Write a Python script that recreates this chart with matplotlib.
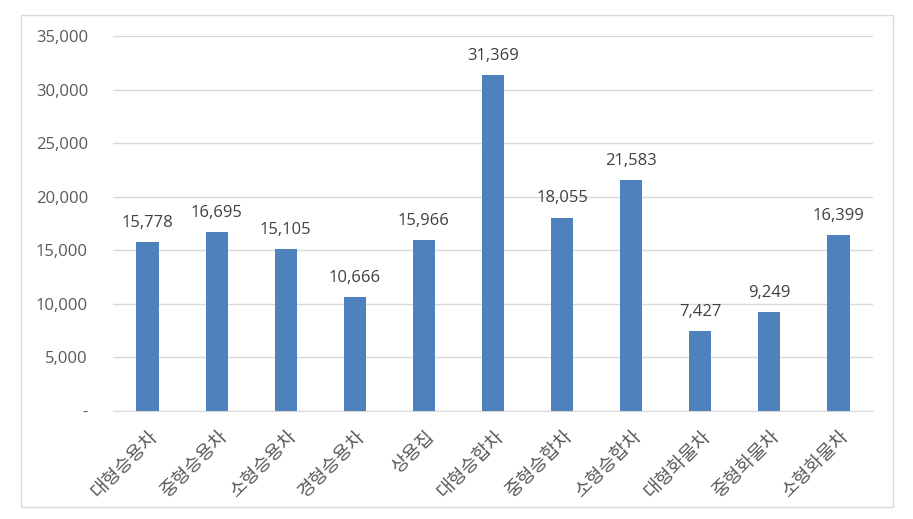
import matplotlib
matplotlib.use("Agg")
import matplotlib.pyplot as plt
from matplotlib.patches import Rectangle
from matplotlib.ticker import FuncFormatter

plt.rcParams['font.family'] = ['Open Sans', 'Noto Sans CJK KR', 'DejaVu Sans']

categories = ['대형승용차', '중형승용차', '소형승용차', '경형승용차', '상용집',
              '대형승합차', '중형승합차', '소형승합차', '대형화물차', '중형화물차', '소형화물차']
values = [15778, 16695, 15105, 10666, 15966, 31369, 18055, 21583, 7427, 9249, 16399]
y_ticks = [0, 5000, 10000, 15000, 20000, 25000, 30000, 35000]

text_color = '#595959'
grid_color = '#D9D9D9'
bar_color = '#4F81BD'


def fmt(v, _pos=None):
    return '-' if v == 0 else f'{int(v):,}'


def main():
    fig = plt.figure(figsize=(9.13, 5.19), dpi=100)
    fig.patches.append(Rectangle((21 / 913, 1 - 507 / 519), 872 / 913, 492 / 519,
                                 transform=fig.transFigure, fill=False,
                                 edgecolor=grid_color, linewidth=1))
    ax = fig.add_axes([113 / 913, 1 - 411 / 519, 760 / 913, 375 / 519])

    x_pos = list(range(len(categories)))
    ax.bar(x_pos, values, width=0.32, color=bar_color, zorder=3)
    for x, v in zip(x_pos, values):
        ax.annotate(fmt(v), (x, v), xytext=(0, 8), textcoords='offset points',
                    ha='center', va='bottom', fontsize=12, color='#404040')

    ax.set_xlim(-0.5, len(categories) - 0.5)
    ax.set_ylim(0, 35000)
    ax.set_yticks(y_ticks)
    ax.yaxis.set_major_formatter(FuncFormatter(fmt))
    ax.set_xticks(x_pos)
    ax.set_xticklabels(categories, rotation=45, ha='right', rotation_mode='anchor',
                       fontsize=13.5, family=['Noto Sans CJK KR', 'DejaVu Sans'])
    ax.tick_params(axis='both', length=0, colors=text_color)
    ax.tick_params(axis='y', pad=18, labelsize=12)
    ax.tick_params(axis='x', pad=11)
    ax.grid(axis='y', color=grid_color, linewidth=1, zorder=0)
    for side in ['top', 'right', 'left']:
        ax.spines[side].set_visible(False)
    ax.spines['bottom'].set_color(grid_color)

    fig.savefig('out.png', dpi=100)
    plt.close(fig)


if __name__ == "__main__":
    main()
